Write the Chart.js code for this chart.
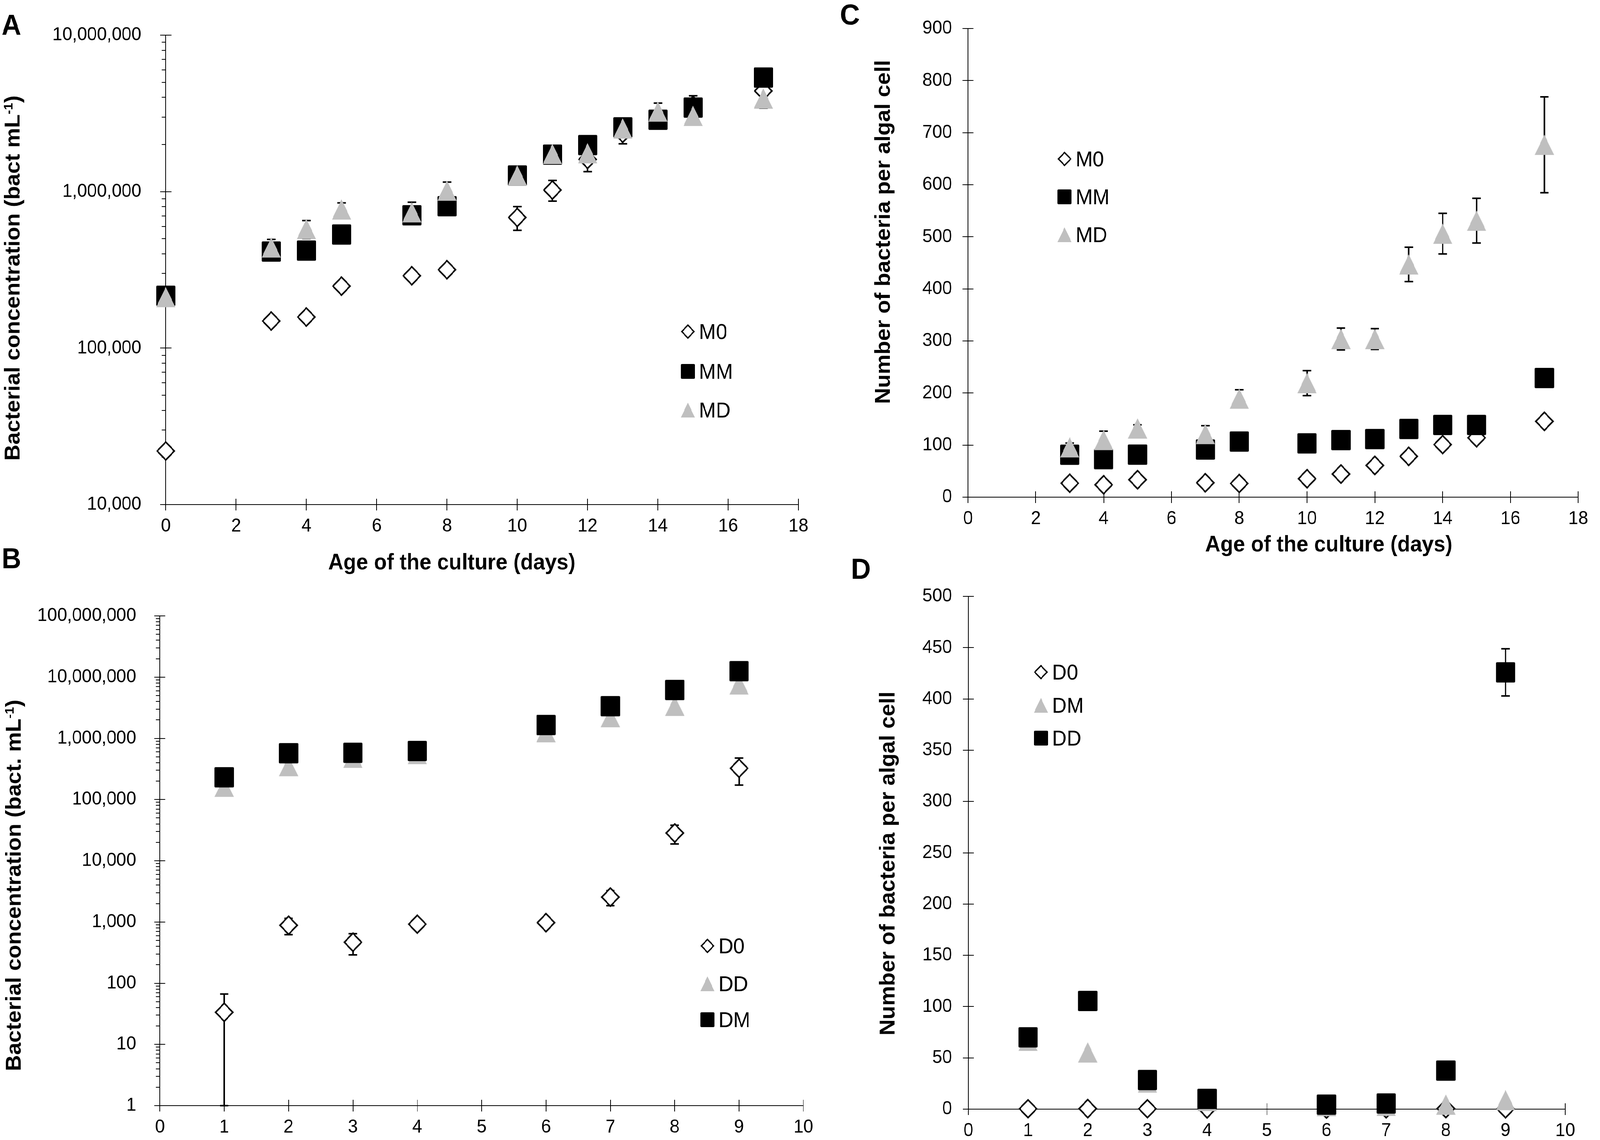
<!DOCTYPE html>
<html>
<head>
<meta charset="utf-8">
<title>Bacterial concentration and bacteria per algal cell</title>
<script src="https://cdn.jsdelivr.net/npm/chart.js@4.4.1/dist/chart.umd.min.js"></script>
<style>
  html, body { margin: 0; padding: 0; background: #fff; overflow: hidden; }
  #frame { position: relative; overflow: hidden; }
  #page { position: absolute; left: 0; top: 0; width: 4324px; height: 2919px; transform-origin: 0 0; }
  canvas { position: absolute; }
</style>
</head>
<body>
<div id="frame">
  <div id="page">
    <canvas id="chartA"></canvas>
    <canvas id="chartC"></canvas>
    <canvas id="chartB"></canvas>
    <canvas id="chartD"></canvas>
  </div>
</div>
<script>
// ---- values ----
// A: bacterial concentration, M cultures (bact mL-1)
const daysA = [0, 3, 4, 5, 7, 8, 10, 11, 12, 13, 14, 15, 17];
const m0A = [22000, 149000, 158000, 249000, 290000, 317000, 684000, 1024000, 1607000, 2360000, 3050000, 3560000, 4400000];
const m0AErr = [0, 0, 0, 0, 0, 0, 118000, 155000, 265000, 340000, 0, 540000, 0];
const mmA = [216000, 414000, 420000, 532000, 706000, 807000, 1268000, 1723000, 1984000, 2575000, 2880000, 3444000, 5358000];
const mdA = [212000, 440000, 577000, 769000, 738000, 1015000, 1270000, 1742000, 1760000, 2535000, 3250000, 3050000, 3934000];
const mdAErr = [0, 55000, 76000, 78000, 118000, 135000, 0, 0, 0, 0, 430000, 0, 520000];

// C: bacteria per algal cell, M cultures
const daysC = [3, 4, 5, 7, 8, 10, 11, 12, 13, 14, 15, 17];
const m0C = [26.8, 23.8, 33.5, 27.7, 26.3, 35.4, 44.4, 61, 78.4, 101, 114, 145.6];
const mmC = [81.5, 73, 81.7, 91.5, 106.8, 103.3, 109.6, 111.6, 131, 138.7, 138.7, 228.8];
const mmCErr = [0, 0, 0, 0, 0, 0, 0, 0, 0, 0, 0, 17];
const mdC = [95.8, 109.8, 131.9, 121.3, 189.3, 219, 303.7, 303.7, 447, 506, 531, 676.7];
const mdCErr = [8, 17, 7, 16, 17, 24, 21, 20, 33, 39, 43, 92];

// B: bacterial concentration, D cultures (bact. mL-1)
const daysB = [1, 2, 3, 4, 6, 7, 8, 9];
const d0B = [33.5, 883, 467, 921, 975, 2550, 28400, 324000];
const d0BErr = [33, 263, 177, 0, 0, 705, 9600, 152000];
const ddB = [162000, 352000, 482000, 555000, 1260000, 2220000, 3400000, 7600000];
const dmB = [231000, 571000, 580000, 621000, 1650000, 3350000, 6160000, 12500000];

// D: bacteria per algal cell, D cultures
const daysD = [1, 2, 3, 4, 6, 7, 8, 9];
const d0D = [0.4, 0.5, 0.4, 0.3, 0.2, 0.3, 0.6, 0.3];
const dmD = [66.7, 55.3, 26, 8, 3, 3.3, 4.4, 8.9];
const ddD = [70, 105.5, 28.4, 10, 4.4, 5.5, 37.6, 425.9];
const ddDErr = [0, 0, 0, 0, 0, 0, 0, 23];

// tick labels
const xTicks18 = [0, 2, 4, 6, 8, 10, 12, 14, 16, 18];
const xTicks10 = [0, 1, 2, 3, 4, 5, 6, 7, 8, 9, 10];
const yTicksA = [10000, 100000, 1000000, 10000000];
const yTicksB = [1, 10, 100, 1000, 10000, 100000, 1000000, 10000000, 100000000];
const yTicksC = [0, 100, 200, 300, 400, 500, 600, 700, 800, 900];
const yTicksD = [0, 50, 100, 150, 200, 250, 300, 350, 400, 450, 500];

const FONT = "'Liberation Sans', Arial, Helvetica, sans-serif";
Chart.defaults.font.family = FONT;
Chart.defaults.color = '#000';

// the figure is laid out on a 4324 x 2919 grid; the browser viewport can be
// narrower than that, so stretch the grid onto whatever viewport we get
const PAGE_W = 4324, PAGE_H = 2919;
const fx = window.innerWidth / PAGE_W;
const fy = window.innerHeight / PAGE_H;
const frame = document.getElementById('frame');
frame.style.width = window.innerWidth + 'px';
frame.style.height = window.innerHeight + 'px';
document.getElementById('page').style.transform = 'scale(' + fx + ',' + fy + ')';

function makeMarker(kind, size, lw) {
  const pad = 4;
  const c = document.createElement('canvas');
  c.width = size + pad * 2;
  c.height = size + pad * 2;
  const g = c.getContext('2d');
  const o = pad, s = size;
  if (kind === 'square') {
    const r = 3;
    g.fillStyle = '#000';
    g.beginPath();
    g.moveTo(o + r, o);
    g.lineTo(o + s - r, o); g.quadraticCurveTo(o + s, o, o + s, o + r);
    g.lineTo(o + s, o + s - r); g.quadraticCurveTo(o + s, o + s, o + s - r, o + s);
    g.lineTo(o + r, o + s); g.quadraticCurveTo(o, o + s, o, o + s - r);
    g.lineTo(o, o + r); g.quadraticCurveTo(o, o, o + r, o);
    g.fill();
  } else if (kind === 'triangle') {
    g.fillStyle = '#bfbfbf';
    g.beginPath();
    g.moveTo(o + s / 2, o);
    g.lineTo(o + s, o + s);
    g.lineTo(o, o + s);
    g.closePath();
    g.fill();
  } else {
    const h = s / 2 - lw * 0.71;
    const cx = o + s / 2, cy = o + s / 2;
    g.fillStyle = '#fff';
    g.strokeStyle = '#000';
    g.lineWidth = lw;
    g.beginPath();
    g.moveTo(cx, cy - h); g.lineTo(cx + h, cy); g.lineTo(cx, cy + h); g.lineTo(cx - h, cy);
    g.closePath();
    g.fill();
    g.stroke();
  }
  return c;
}

const plotMarkers = {
  diamond: makeMarker('diamond', 52, 4),
  square: makeMarker('square', 52),
  triangle: makeMarker('triangle', 52)
};
const legendMarkers = {
  diamond: makeMarker('diamond', 38, 3.5),
  square: makeMarker('square', 38),
  triangle: makeMarker('triangle', 38)
};

function isPow10(v) {
  const l = Math.log10(v);
  return Math.abs(l - Math.round(l)) < 1e-9;
}

function logTicks(majors) {
  const out = [];
  majors.forEach((m, i) => {
    out.push({ value: m });
    if (i < majors.length - 1) {
      for (let k = 2; k <= 9; k++) out.push({ value: m * k });
    }
  });
  return out;
}

// Excel style tick marks: major ticks cross the axis, log minor ticks outside only
const axisTicks = {
  id: 'axisTicks',
  beforeDatasetsDraw(chart) {
    const { ctx, scales: { x, y } } = chart;
    const logY = y.type === 'logarithmic';
    ctx.save();
    ctx.strokeStyle = '#000';
    ctx.lineWidth = 2;
    ctx.beginPath();
    x.ticks.forEach(t => {
      const px = Math.round(x.getPixelForValue(t.value));
      ctx.moveTo(px, x.top - 15);
      ctx.lineTo(px, x.top + 15);
    });
    y.ticks.forEach(t => {
      const py = Math.round(y.getPixelForValue(t.value));
      if (!logY || isPow10(t.value)) {
        ctx.moveTo(y.right - 15, py);
        ctx.lineTo(y.right + 15, py);
      } else {
        ctx.moveTo(y.right - 11, py);
        ctx.lineTo(y.right, py);
      }
    });
    ctx.stroke();
    ctx.restore();
  }
};

const errorBars = {
  id: 'errorBars',
  beforeDatasetsDraw(chart) {
    const { ctx, scales: { x, y } } = chart;
    ctx.save();
    ctx.strokeStyle = '#000';
    ctx.lineWidth = 4;
    chart.data.datasets.forEach(ds => {
      if (!ds.errors) return;
      ds.data.forEach((p, i) => {
        const e = ds.errors[i];
        if (!e) return;
        const px = x.getPixelForValue(p.x);
        const hi = y.getPixelForValue(p.y + e);
        const lo = y.getPixelForValue(Math.max(p.y - e, y.min));
        ctx.beginPath();
        ctx.moveTo(px, hi); ctx.lineTo(px, lo);
        ctx.moveTo(px - 11.5, hi); ctx.lineTo(px + 11.5, hi);
        ctx.moveTo(px - 11.5, lo); ctx.lineTo(px + 11.5, lo);
        ctx.stroke();
      });
    });
    ctx.restore();
  }
};

function drawYTitle(ctx, t) {
  const main = 'bold 57px ' + FONT;
  const sup = 'bold 33px ' + FONT;
  let total = 0;
  const widths = t.parts.map(([s, isSup]) => {
    ctx.font = isSup ? sup : main;
    const w = ctx.measureText(s).width;
    total += w;
    return w;
  });
  ctx.save();
  ctx.translate(t.x, t.y);
  ctx.rotate(-Math.PI / 2);
  ctx.textAlign = 'left';
  let cur = -total / 2;
  t.parts.forEach(([s, isSup], i) => {
    ctx.font = isSup ? sup : main;
    ctx.fillText(s, cur, isSup ? -19 : 0);
    cur += widths[i];
  });
  ctx.restore();
}

// panel letter, axis titles and the in-plot legend
function decorPlugin(p) {
  return {
    id: 'decor',
    afterDraw(chart) {
      const ctx = chart.ctx;
      ctx.save();
      ctx.translate(-p.box[0], -p.box[1]);
      ctx.fillStyle = '#000';
      ctx.textBaseline = 'alphabetic';

      ctx.font = 'bold 74px ' + FONT;
      ctx.textAlign = 'left';
      ctx.fillText(p.letter[0], p.letter[1], p.letter[2]);

      if (p.xTitle) {
        ctx.font = 'bold 57px ' + FONT;
        ctx.textAlign = 'center';
        ctx.fillText('Age of the culture (days)', p.xTitle[0], p.xTitle[1]);
      }

      drawYTitle(ctx, p.yTitle);

      ctx.font = '55px ' + FONT;
      ctx.textAlign = 'left';
      p.series.forEach((s, i) => {
        const img = legendMarkers[s.marker];
        const cy = p.legend.rows[i];
        ctx.drawImage(img, p.legend.x - img.width / 2, cy - img.height / 2);
        ctx.fillText(s.label, p.legend.x + 30, cy + 19);
      });
      ctx.restore();
    }
  };
}

const concTitle = (unit) => [[unit, false], ['-1', true], [')', false]];
const ratioTitle = [['Number of bacteria per algal cell', false]];

const panels = [
  {
    id: 'chartA', box: [0, 0, 2230, 1480], area: [448, 44, 2158, 1292],
    xTicks: xTicks18, yType: 'logarithmic', yTicks: yTicksA, yGap: 66,
    letter: ['A', 4, 89], xTitle: [1221, 1458],
    yTitle: { x: 53, y: 712, parts: concTitle('Bacterial concentration (bact mL') },
    legend: { x: 1859, rows: [849, 951, 1050] },
    series: [
      { label: 'M0', marker: 'diamond', x: daysA, y: m0A, err: m0AErr },
      { label: 'MM', marker: 'square', x: daysA, y: mmA },
      { label: 'MD', marker: 'triangle', x: daysA, y: mdA, err: mdAErr }
    ]
  },
  {
    id: 'chartC', box: [2210, 0, 2114, 1480], area: [2616, 73, 4296, 1273],
    xTicks: xTicks18, yType: 'linear', yTicks: yTicksC, yGap: 43,
    letter: ['C', 2270, 63], xTitle: [3591, 1412],
    yTitle: { x: 2405, y: 594, parts: ratioTitle },
    legend: { x: 2877, rows: [407, 504, 601] },
    series: [
      { label: 'M0', marker: 'diamond', x: daysC, y: m0C },
      { label: 'MM', marker: 'square', x: daysC, y: mmC, err: mmCErr },
      { label: 'MD', marker: 'triangle', x: daysC, y: mdC, err: mdCErr }
    ]
  },
  {
    id: 'chartB', box: [0, 1390, 2230, 1529], area: [432, 1577, 2192, 2838],
    xTicks: xTicks10, yType: 'logarithmic', yTicks: yTicksB, yGap: 64,
    letter: ['B', 4, 1455], xTitle: null,
    yTitle: { x: 56, y: 2267, parts: concTitle('Bacterial concentration (bact. mL') },
    legend: { x: 1912, rows: [2422, 2519, 2611] },
    series: [
      { label: 'D0', marker: 'diamond', x: daysB, y: d0B, err: d0BErr },
      { label: 'DD', marker: 'triangle', x: daysB, y: ddB },
      { label: 'DM', marker: 'square', x: daysB, y: dmB }
    ]
  },
  {
    id: 'chartD', box: [2210, 1390, 2114, 1529], area: [2617, 1527, 4230, 2840],
    xTicks: xTicks10, yType: 'linear', yTicks: yTicksD, yGap: 44,
    letter: ['D', 2300, 1482], xTitle: null,
    yTitle: { x: 2417, y: 2211, parts: ratioTitle },
    legend: { x: 2813, rows: [1721, 1806, 1890] },
    series: [
      { label: 'D0', marker: 'diamond', x: daysD, y: d0D },
      { label: 'DM', marker: 'triangle', x: daysD, y: dmD },
      { label: 'DD', marker: 'square', x: daysD, y: ddD, err: ddDErr }
    ]
  }
];

function buildChart(p) {
  const canvas = document.getElementById(p.id);
  const [bl, bt, bw, bh] = p.box;
  const [al, at, ar, ab] = p.area;
  canvas.width = bw;
  canvas.height = bh;
  canvas.style.left = bl + 'px';
  canvas.style.top = bt + 'px';
  const n = p.series.length;
  const logY = p.yType === 'logarithmic';

  const datasets = p.series.map((s, i) => ({
    label: s.label,
    data: s.x.map((d, k) => ({ x: d, y: s.y[k] })),
    errors: s.err || null,
    pointStyle: plotMarkers[s.marker],
    pointRadius: 26,
    showLine: false,
    clip: false,
    order: n - i   // last legend entry is drawn on top
  }));

  return new Chart(canvas, {
    type: 'scatter',
    data: { datasets },
    options: {
      responsive: false,
      animation: false,
      events: [],
      devicePixelRatio: 1,
      layout: { padding: { left: 0, top: at - bt, right: bl + bw - ar, bottom: 0 } },
      plugins: { legend: { display: false }, tooltip: { enabled: false } },
      scales: {
        x: {
          type: 'linear',
          min: p.xTicks[0],
          max: p.xTicks[p.xTicks.length - 1],
          afterBuildTicks: sc => { sc.ticks = p.xTicks.map(v => ({ value: v })); },
          afterFit: sc => { sc.height = bt + bh - ab; },
          grid: { display: false, drawTicks: false },
          border: { display: true, color: '#000', width: 2 },
          ticks: {
            padding: 32, autoSkip: false, maxRotation: 0, color: '#000',
            font: { size: 48, lineHeight: 1 },
            callback: v => String(v)
          }
        },
        y: {
          type: p.yType,
          min: p.yTicks[0],
          max: p.yTicks[p.yTicks.length - 1],
          afterBuildTicks: sc => {
            sc.ticks = logY ? logTicks(p.yTicks) : p.yTicks.map(v => ({ value: v }));
          },
          afterFit: sc => { sc.width = al - bl; },
          grid: { display: false, drawTicks: false },
          border: { display: true, color: '#000', width: 2 },
          ticks: {
            padding: p.yGap, autoSkip: false, color: '#000',
            font: { size: 48, lineHeight: 1 },
            callback: v => logY ? (isPow10(v) ? Number(v).toLocaleString('en-US') : '') : String(v)
          }
        }
      }
    },
    plugins: [axisTicks, errorBars, decorPlugin(p)]
  });
}

panels.forEach(buildChart);
</script>
</body>
</html>
